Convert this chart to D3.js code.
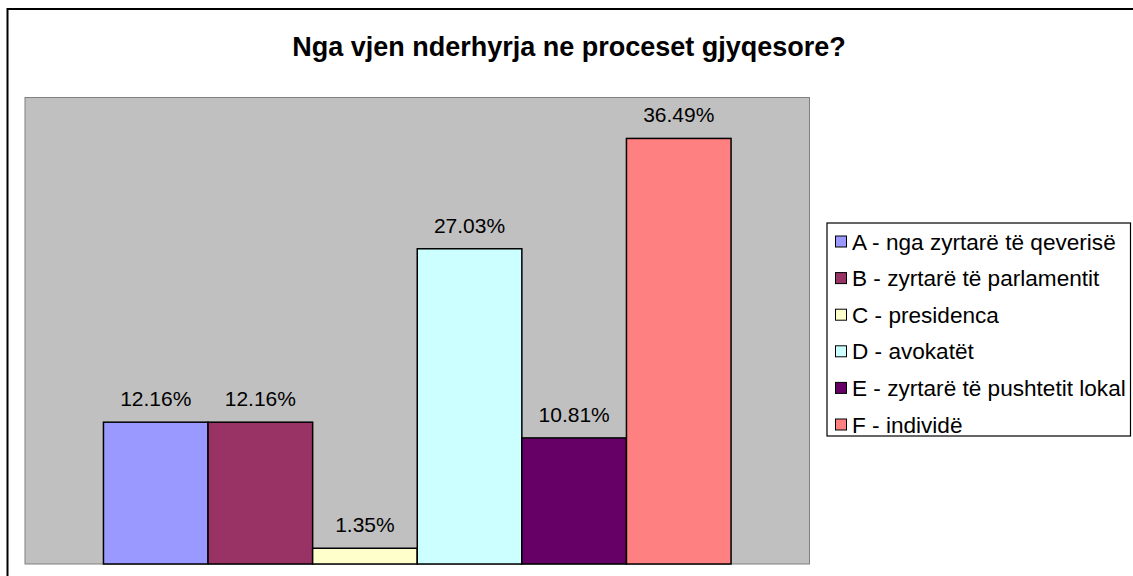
<!DOCTYPE html>
<html>
<head>
<meta charset="utf-8">
<script src="https://cdn.jsdelivr.net/npm/d3@7"></script>
<style>
    html, body { margin: 0; padding: 0; background: #fff; overflow: hidden; }
    svg { display: block; font-family: Arial, "Liberation Sans", sans-serif; }
</style>
</head>
<body>
<svg id="chart"></svg>
<script>
const title = 'Nga vjen nderhyrja ne proceset gjyqesore?';
const categories = [
    'A - nga zyrtarë të qeverisë',
    'B - zyrtarë të parlamentit',
    'C - presidenca',
    'D - avokatët',
    'E - zyrtarë të pushtetit lokal',
    'F - individë'
];
const values = [12.16, 12.16, 1.35, 27.03, 10.81, 36.49];
const colors = ['#9999FF', '#993366', '#FFFFCC', '#CCFFFF', '#660066', '#FF8080'];
const yDomain = [0, 40];

const width = 1133;
const height = 576;
const plot = { left: 25, top: 97.5, right: 809.5, bottom: 564 }; // px

const svg = d3.select('#chart')
    .attr('width', width)
    .attr('height', height);

// chart frame, runs off the right and bottom edge like the original
svg.append('rect')
    .attr('x', 7.5)
    .attr('y', 9)
    .attr('width', width + 20)
    .attr('height', height + 20)
    .attr('fill', '#fff')
    .attr('stroke', '#000')
    .attr('stroke-width', 2);

svg.append('text')
    .attr('x', 569)
    .attr('y', 56)
    .attr('text-anchor', 'middle')
    .attr('font-weight', 'bold')
    .attr('font-size', 27)
    .text(title);

svg.append('rect')
    .attr('x', plot.left)
    .attr('y', plot.top)
    .attr('width', plot.right - plot.left)
    .attr('height', plot.bottom - plot.top)
    .attr('fill', '#C0C0C0')
    .attr('stroke', '#808080')
    .attr('stroke-width', 1);

// one category, six series, excel gap width 150%
var x = d3.scaleBand()
    .domain(categories)
    .range([plot.left, plot.right])
    .paddingInner(0)
    .paddingOuter(0.75);

var y = d3.scaleLinear()
    .domain(yDomain)
    .range([plot.bottom, plot.top]);

var bars = svg.append('g').attr('class', 'bars');

bars.selectAll('rect')
    .data(values)
    .enter().append('rect')
    .attr('x', (d, i) => x(categories[i]))
    .attr('y', d => y(d))
    .attr('width', x.bandwidth())
    .attr('height', d => y(0) - y(d))
    .attr('fill', (d, i) => colors[i])
    .attr('stroke', '#000')
    .attr('stroke-width', 1.5);

bars.selectAll('text')
    .data(values)
    .enter().append('text')
    .attr('x', (d, i) => x(categories[i]) + x.bandwidth() / 2)
    .attr('y', d => y(d) - 16)
    .attr('text-anchor', 'middle')
    .attr('font-size', 21)
    .attr('fill', '#000')
    .text(d => d.toFixed(2) + '%');

// legend
const legendTop = 241.5;
const legendStep = 36.6;

svg.append('rect')
    .attr('x', 827)
    .attr('y', 223)
    .attr('width', 303.5)
    .attr('height', 213)
    .attr('fill', '#fff')
    .attr('stroke', '#000')
    .attr('stroke-width', 1.2);

var legend = svg.append('g')
    .attr('class', 'legend')
    .selectAll('g')
    .data(categories)
    .enter().append('g')
    .attr('transform', (d, i) => 'translate(0,' + (legendTop + i * legendStep) + ')');

legend.append('rect')
    .attr('x', 835.5)
    .attr('y', -5.5)
    .attr('width', 11)
    .attr('height', 11)
    .attr('fill', (d, i) => colors[i])
    .attr('stroke', '#000')
    .attr('stroke-width', 1);

legend.append('text')
    .attr('x', 852)
    .attr('y', 8)
    .attr('font-size', 22.6)
    .attr('fill', '#000')
    .text(d => d);
</script>
</body>
</html>
